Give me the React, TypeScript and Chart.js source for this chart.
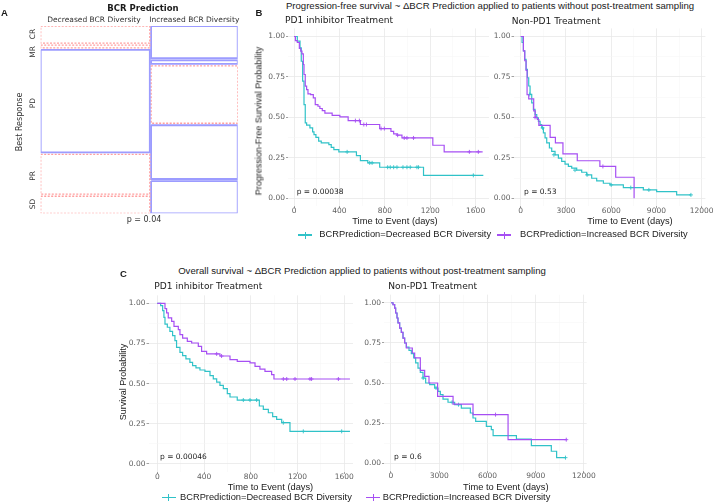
import React, { useEffect, useRef } from "react";
import { Chart, registerables } from "chart.js";

Chart.register(...registerables);

// ---------- Panel A : mosaic (counts per best response) ----------
const responses = ["CR", "MR", "PD", "PR", "SD"];
const groups = ["Decreased BCR Diversity", "Increased BCR Diversity"];
const decreasedCounts = [6, 1, 36, 14, 6];
const increasedCounts = [9, 1, 16, 15, 9];

// ---------- Panel B : progression-free survival [days, probability] ----------
const pfsPd1Decreased = [[0, 1], [29, 0.971], [53, 0.93], [64, 0.847], [76, 0.724], [88, 0.579], [99, 0.466], [111, 0.452], [140, 0.435], [164, 0.41], [176, 0.394], [193, 0.377], [217, 0.353], [240, 0.342], [307, 0.332], [328, 0.315], [351, 0.301], [395, 0.287], [550, 0.264], [585, 0.233], [650, 0.219], [755, 0.192], [1141, 0.142], [1668, 0.142]];
const pfsPd1Increased = [[0, 1], [12, 0.975], [29, 0.963], [47, 0.926], [59, 0.909], [70, 0.893], [82, 0.827], [88, 0.765], [99, 0.693], [111, 0.672], [123, 0.645], [146, 0.641], [170, 0.621], [187, 0.579], [211, 0.569], [228, 0.555], [249, 0.542], [272, 0.526], [336, 0.513], [404, 0.503], [477, 0.48], [585, 0.456], [755, 0.431], [854, 0.414], [878, 0.398], [907, 0.39], [951, 0.373], [1223, 0.328], [1323, 0.287], [1662, 0.287]];
const pfsPd1DecreasedCensor = [[468, 0.287], [667, 0.219], [688, 0.219], [825, 0.192], [848, 0.192], [878, 0.192], [907, 0.192], [960, 0.192], [995, 0.192], [1024, 0.192], [1083, 0.192], [1097, 0.192], [1580, 0.142]];
const pfsPd1IncreasedCensor = [[541, 0.48], [576, 0.48], [615, 0.456], [638, 0.456], [767, 0.431], [796, 0.431], [913, 0.39], [971, 0.373], [995, 0.373], [1053, 0.373], [1545, 0.287], [1624, 0.287]];

const pfsNonDecreased = [[0, 1], [88, 0.963], [177, 0.911], [265, 0.859], [354, 0.797], [442, 0.745], [530, 0.694], [619, 0.642], [729, 0.59], [840, 0.549], [950, 0.518], [1061, 0.497], [1171, 0.476], [1282, 0.455], [1392, 0.435], [1503, 0.404], [1613, 0.373], [1724, 0.342], [1901, 0.311], [2055, 0.29], [2276, 0.269], [2497, 0.248], [2718, 0.228], [2939, 0.211], [3160, 0.197], [3381, 0.186], [3713, 0.174], [4044, 0.161], [4376, 0.145], [4707, 0.124], [5039, 0.108], [5481, 0.093], [5923, 0.083], [6807, 0.066], [8133, 0.052], [9017, 0.041], [10343, 0.021], [11290, 0.021]];
const pfsNonIncreased = [[0, 1], [177, 0.911], [265, 0.85], [354, 0.79], [420, 0.64], [530, 0.615], [860, 0.54], [960, 0.5], [1100, 0.487], [1200, 0.451], [1950, 0.377], [2300, 0.342], [2800, 0.275], [3750, 0.232], [5250, 0.197], [6300, 0.13], [7520, 0]];
const pfsNonDecreasedCensor = [[600, 0.642], [1450, 0.435], [2200, 0.269], [3600, 0.174], [4400, 0.145], [6000, 0.083], [7300, 0.066], [8500, 0.052], [11290, 0.021]];
const pfsNonIncreasedCensor = [[950, 0.5], [5450, 0.197]];

// ---------- Panel C : overall survival [days, probability] ----------
const osPd1Decreased = [[0, 1], [29, 0.986], [46, 0.955], [57, 0.913], [66, 0.871], [86, 0.851], [108, 0.826], [131, 0.799], [151, 0.768], [165, 0.726], [194, 0.695], [217, 0.674], [245, 0.654], [279, 0.633], [302, 0.612], [331, 0.598], [365, 0.585], [408, 0.577], [451, 0.55], [479, 0.53], [508, 0.51], [536, 0.489], [565, 0.469], [599, 0.438], [622, 0.417], [684, 0.398], [873, 0.361], [907, 0.34], [950, 0.319], [987, 0.295], [1021, 0.278], [1064, 0.257], [1135, 0.203], [1648, 0.203]];
const osPd1Increased = [[0, 1], [66, 0.967], [80, 0.94], [94, 0.909], [123, 0.888], [143, 0.857], [180, 0.836], [194, 0.805], [217, 0.784], [257, 0.763], [294, 0.753], [351, 0.732], [379, 0.701], [422, 0.685], [536, 0.672], [622, 0.649], [684, 0.639], [793, 0.629], [836, 0.608], [878, 0.591], [921, 0.577], [978, 0.556], [998, 0.529], [1648, 0.529]];
const osPd1DecreasedCensor = [[736, 0.398], [793, 0.398], [850, 0.398], [1078, 0.257], [1249, 0.203], [1577, 0.203]];
const osPd1IncreasedCensor = [[508, 0.685], [550, 0.672], [1078, 0.529], [1107, 0.529], [1178, 0.529], [1306, 0.529], [1320, 0.529], [1549, 0.529]];

const osNonDecreased = [[0, 1], [124, 0.988], [228, 0.967], [290, 0.936], [373, 0.905], [435, 0.874], [539, 0.842], [643, 0.815], [746, 0.78], [850, 0.749], [954, 0.724], [1119, 0.703], [1265, 0.683], [1410, 0.656], [1534, 0.625], [1679, 0.593], [1824, 0.566], [1990, 0.531], [2156, 0.5], [2405, 0.49], [2716, 0.469], [2923, 0.448], [3068, 0.427], [3234, 0.4], [3545, 0.38], [3959, 0.365], [4374, 0.344], [4934, 0.313], [5100, 0.282], [5265, 0.261], [5929, 0.23], [6240, 0.209], [6350, 0.172], [7800, 0.15], [8730, 0.11], [9970, 0.075], [10300, 0.035], [10850, 0.035]];
const osNonIncreased = [[0, 1], [124, 0.988], [228, 0.967], [290, 0.936], [373, 0.905], [435, 0.874], [539, 0.842], [643, 0.815], [746, 0.78], [850, 0.749], [954, 0.718], [1327, 0.687], [1472, 0.656], [1824, 0.579], [2094, 0.541], [2363, 0.5], [2900, 0.417], [3860, 0.369], [5100, 0.303], [7280, 0.147], [10900, 0.147]];
const osNonDecreasedCensor = [[2000, 0.531], [2800, 0.469], [3800, 0.38], [4200, 0.365], [10850, 0.035]];
const osNonIncreasedCensor = [[6500, 0.303], [10900, 0.147]];

// ---------- ticks ----------
const pd1DayTicks = [0, 400, 800, 1200, 1600];
const nonPd1DayTicks = [0, 3000, 6000, 9000, 12000];
const probTicks = [0, 0.25, 0.5, 0.75, 1];

const legendLabels = ["BCRPrediction=Decreased BCR Diversity", "BCRPrediction=Increased BCR Diversity"];

const CYAN = "#30C2C8";
const PURPLE = "#A64FF3";
const BLUE = "#9C9CFF";
const RED = "#FF9F9F";
const GRID = "#E8E8E8";
const GRID_MINOR = "#F4F4F4";
const TICK = "#5E5E5E";
const SANS = "'Liberation Sans', Arial, sans-serif";
const DEJAVU = "'DejaVu Sans', sans-serif";

function withMinor(major: number[]) {
  const out: number[] = [];
  major.forEach((v, i) => {
    out.push(v);
    if (i < major.length - 1) out.push(v + (major[i + 1] - v) / 2);
  });
  return out;
}

const toXY = (a: number[][]) => a.map(([x, y]) => ({ x, y }));

type Box = { x: number; y: number; w: number; h: number };
type Area = { l: number; t: number; r: number; b: number };

function KMPanel(props: {
  box: Box; area: Area; xMin: number; xMax: number; xTicks: number[];
  dec: number[][]; inc: number[][]; decCens: number[][]; incCens: number[][];
}) {
  const ref = useRef<HTMLCanvasElement | null>(null);
  useEffect(() => {
    const { box, area } = props;
    const xAll = withMinor(props.xTicks);
    const yAll = withMinor(probTicks);
    const isMajX = (v: number) => props.xTicks.includes(v);
    const isMajY = (v: number) => probTicks.includes(v);
    const tickFont = { family: "'DejaVu Sans', sans-serif", size: 7.5 };
    const chart = new Chart(ref.current as HTMLCanvasElement, {
      type: "line",
      data: {
        datasets: [
          { data: toXY(props.inc), borderColor: PURPLE, borderWidth: 1.2, pointRadius: 0, stepped: "before", fill: false },
          { data: toXY(props.dec), borderColor: CYAN, borderWidth: 1.2, pointRadius: 0, stepped: "before", fill: false },
          { data: toXY(props.incCens), showLine: false, pointStyle: "cross", pointRadius: 2, borderColor: PURPLE, borderWidth: 0.9 },
          { data: toXY(props.decCens), showLine: false, pointStyle: "cross", pointRadius: 2, borderColor: CYAN, borderWidth: 0.9 },
        ] as any,
      },
      options: {
        animation: false,
        responsive: false,
        devicePixelRatio: 1,
        events: [],
        layout: { padding: { left: 0, top: area.t - box.y, right: box.x + box.w - area.r, bottom: 0 } },
        plugins: { legend: { display: false }, tooltip: { enabled: false } },
        scales: {
          x: {
            type: "linear", min: props.xMin, max: props.xMax,
            border: { display: false },
            afterBuildTicks: (s: any) => { s.ticks = xAll.map((v) => ({ value: v })); },
            afterFit: (s: any) => { s.height = box.y + box.h - area.b; },
            ticks: { autoSkip: false, maxRotation: 0, minRotation: 0, padding: -1.5, color: TICK, font: tickFont, callback: (v: any) => (isMajX(v) ? String(v) : "") },
            grid: {
              color: (c: any) => (isMajX(c.tick.value) ? GRID : GRID_MINOR),
              lineWidth: (c: any) => (isMajX(c.tick.value) ? 0.8 : 0.5),
              tickLength: 2,
              tickColor: (c: any) => (isMajX(c.tick.value) ? "#8A8A8A" : "rgba(0,0,0,0)"),
            },
          },
          y: {
            type: "linear", min: -0.05, max: 1.05,
            border: { display: false },
            afterBuildTicks: (s: any) => { s.ticks = yAll.map((v) => ({ value: v })); },
            afterFit: (s: any) => { s.width = area.l - box.x; },
            ticks: { autoSkip: false, padding: 1, color: TICK, font: tickFont, callback: (v: any) => (isMajY(v) ? Number(v).toFixed(2) : "") },
            grid: {
              color: (c: any) => (isMajY(c.tick.value) ? GRID : GRID_MINOR),
              lineWidth: (c: any) => (isMajY(c.tick.value) ? 0.8 : 0.5),
              tickLength: 2,
              tickColor: (c: any) => (isMajY(c.tick.value) ? "#8A8A8A" : "rgba(0,0,0,0)"),
            },
          },
        },
      } as any,
    });
    return () => chart.destroy();
  }, []);
  const { box } = props;
  return (
    <canvas ref={ref} width={box.w} height={box.h}
      style={{ position: "absolute", left: box.x, top: box.y, width: box.w, height: box.h }} />
  );
}

function MosaicPanel() {
  const ref = useRef<HTMLCanvasElement | null>(null);
  useEffect(() => {
    const cols = [decreasedCounts, increasedCounts];
    const colTotals = cols.map((c) => c.reduce((a, b) => a + b, 0));
    const N = colTotals[0] + colTotals[1];
    const rowTotals = responses.map((_, i) => cols[0][i] + cols[1][i]);
    const gapX = 0.75;
    const gapY = 0.0112;
    const datasets: any[] = [];
    let x0 = 0;
    cols.forEach((counts, ci) => {
      const x1 = x0 + colTotals[ci];
      let y0 = 0;
      counts.forEach((n, ri) => {
        const y1 = y0 + n / colTotals[ci];
        const expected = (rowTotals[ri] * colTotals[ci]) / N;
        const over = n > expected;
        datasets.push({
          label: `${groups[ci]} ${responses[ri]}`,
          data: [{ x: x0, y: y0 }, { x: x1, y: y0 }, { x: x1, y: y1 }, { x: x0, y: y1 }, { x: x0, y: y0 }],
          borderColor: over ? BLUE : RED,
          borderWidth: over ? 1.8 : 1.3,
          borderDash: over ? [] : [2, 1.5],
          pointRadius: 0,
          tension: 0,
          fill: false,
        });
        y0 = y1 + gapY;
      });
      x0 = x1 + gapX;
    });
    const chart = new Chart(ref.current as HTMLCanvasElement, {
      type: "line",
      data: { datasets },
      options: {
        animation: false,
        responsive: false,
        devicePixelRatio: 1,
        events: [],
        layout: { padding: { left: 40.7, top: 26, right: 2.3, bottom: 26.7 } },
        plugins: { legend: { display: false }, tooltip: { enabled: false } },
        scales: {
          x: { type: "linear", display: false, min: 0, max: N + gapX },
          y: { type: "linear", display: false, min: 0, max: 1 + gapY * (responses.length - 1), reverse: true },
        },
      } as any,
    });
    return () => chart.destroy();
  }, []);
  return <canvas ref={ref} width={240} height={240} style={{ position: "absolute", left: 0, top: 0, width: 240, height: 240 }} />;
}

function Txt(props: { x: number; y: number; s: number; f?: string; w?: number; c?: string; a?: "l" | "c"; rot?: number; children: React.ReactNode }) {
  const { x, y, s, f = SANS, w = 400, c = "#1A1A1A", a = "l", rot = 0 } = props;
  const tx = a === "c" ? "-50%" : "0";
  return (
    <div style={{
      position: "absolute", left: x, top: y, fontFamily: f, fontSize: s, fontWeight: w, color: c,
      whiteSpace: "nowrap", lineHeight: 1,
      transform: `translate(${tx}, -50%)${rot ? ` rotate(${rot}deg)` : ""}`,
      transformOrigin: "50% 50%",
    }}>{props.children}</div>
  );
}

function LegendKey(props: { x: number; y: number; color: string }) {
  const { x, y, color } = props;
  return (
    <>
      <div style={{ position: "absolute", left: x, top: y - 0.6, width: 14, height: 1.3, background: color }} />
      <div style={{ position: "absolute", left: x + 6.5, top: y - 3.5, width: 1.1, height: 7, background: color }} />
    </>
  );
}

export default function App() {
  return (
    <div style={{ position: "absolute", left: 0, top: 0, width: 720, height: 504, background: "#FFFFFF", overflow: "hidden" }}>
      {/* Panel A */}
      <MosaicPanel />
      <Txt x={1} y={12.5} s={9.5} w={700}>A</Txt>
      <Txt x={143} y={7.5} s={8.5} f={DEJAVU} w={700} a="c">BCR Prediction</Txt>
      <Txt x={94} y={19.5} s={7.5} f={DEJAVU} c="#333" a="c">{groups[0]}</Txt>
      <Txt x={194.3} y={19.5} s={7.5} f={DEJAVU} c="#333" a="c">{groups[1]}</Txt>
      <Txt x={32.5} y={34.2} s={7.5} f={DEJAVU} c="#333" a="c" rot={-90}>{responses[0]}</Txt>
      <Txt x={32.5} y={52} s={7.5} f={DEJAVU} c="#333" a="c" rot={-90}>{responses[1]}</Txt>
      <Txt x={32.5} y={103.3} s={7.5} f={DEJAVU} c="#333" a="c" rot={-90}>{responses[2]}</Txt>
      <Txt x={32.5} y={175.8} s={7.5} f={DEJAVU} c="#333" a="c" rot={-90}>{responses[3]}</Txt>
      <Txt x={32.5} y={204.2} s={7.5} f={DEJAVU} c="#333" a="c" rot={-90}>{responses[4]}</Txt>
      <Txt x={20} y={121.5} s={8} f={DEJAVU} c="#333" a="c" rot={-90}>Best Response</Txt>
      <Txt x={144} y={220.3} s={8} f={DEJAVU} c="#333" a="c">p = 0.04</Txt>

      {/* Panel B */}
      <Txt x={255.5} y={13} s={9.5} w={700}>B</Txt>
      <Txt x={490} y={5.5} s={9.6} a="c">Progression-free survival ~ ΔBCR Prediction applied to patients without post-treatment sampling</Txt>
      <KMPanel box={{ x: 260, y: 20, w: 235, h: 200 }} area={{ l: 288, t: 28.4, r: 489, b: 206.4 }}
        xMin={-53} xMax={1718} xTicks={pd1DayTicks}
        dec={pfsPd1Decreased} inc={pfsPd1Increased} decCens={pfsPd1DecreasedCensor} incCens={pfsPd1IncreasedCensor} />
      <KMPanel box={{ x: 490, y: 20, w: 225, h: 200 }} area={{ l: 513.5, t: 28.4, r: 705.4, b: 206.4 }}
        xMin={-480} xMax={12250} xTicks={nonPd1DayTicks}
        dec={pfsNonDecreased} inc={pfsNonIncreased} decCens={pfsNonDecreasedCensor} incCens={pfsNonIncreasedCensor} />
      <Txt x={285} y={21} s={9.1} f={DEJAVU}>PD1 inhibitor Treatment</Txt>
      <Txt x={511.7} y={22} s={9.1} f={DEJAVU}>Non-PD1 Treatment</Txt>
      <Txt x={258.5} y={120.7} s={9} a="c" rot={-90}>Progression-Free Survival Probability</Txt>
      <Txt x={296.7} y={192} s={7.5} f={DEJAVU}>p = 0.00038</Txt>
      <Txt x={524} y={192} s={7.5} f={DEJAVU}>p = 0.53</Txt>
      <Txt x={395} y={222} s={9.3} a="c">Time to Event (days)</Txt>
      <Txt x={630} y={222} s={9.3} a="c">Time to Event (days)</Txt>
      <LegendKey x={298} y={235} color={CYAN} />
      <Txt x={319.3} y={235} s={9.3}>{legendLabels[0]}</Txt>
      <LegendKey x={497} y={235} color={PURPLE} />
      <Txt x={520} y={235} s={9.3}>{legendLabels[1]}</Txt>

      {/* Panel C */}
      <Txt x={120} y={274} s={9.5} w={700}>C</Txt>
      <Txt x={362} y={271} s={9.6} a="c">Overall survival ~ ΔBCR Prediction applied to patients without post-treatment sampling</Txt>
      <KMPanel box={{ x: 125, y: 285, w: 235, h: 195 }} area={{ l: 148.5, t: 295.3, r: 353, b: 472 }}
        xMin={-75} xMax={1674} xTicks={pd1DayTicks}
        dec={osPd1Decreased} inc={osPd1Increased} decCens={osPd1DecreasedCensor} incCens={osPd1IncreasedCensor} />
      <KMPanel box={{ x: 360, y: 285, w: 245, h: 195 }} area={{ l: 384, t: 294.7, r: 586.7, b: 471.3 }}
        xMin={-435} xMax={12170} xTicks={nonPd1DayTicks}
        dec={osNonDecreased} inc={osNonIncreased} decCens={osNonDecreasedCensor} incCens={osNonIncreasedCensor} />
      <Txt x={154.3} y={287.3} s={9.1} f={DEJAVU}>PD1 inhibitor Treatment</Txt>
      <Txt x={388.3} y={286.7} s={9.1} f={DEJAVU}>Non-PD1 Treatment</Txt>
      <Txt x={122.5} y={381.5} s={9} a="c" rot={-90}>Survival Probability</Txt>
      <Txt x={160} y={457} s={7.5} f={DEJAVU}>p = 0.00046</Txt>
      <Txt x={394} y={457} s={7.5} f={DEJAVU}>p = 0.6</Txt>
      <Txt x={270.5} y={487.7} s={9.3} a="c">Time to Event (days)</Txt>
      <Txt x={505.8} y={487.7} s={9.3} a="c">Time to Event (days)</Txt>
      <LegendKey x={161.7} y={497.7} color={CYAN} />
      <Txt x={180} y={497.7} s={9.3}>{legendLabels[0]}</Txt>
      <LegendKey x={366} y={497.7} color={PURPLE} />
      <Txt x={382.7} y={497.7} s={9.3}>{legendLabels[1]}</Txt>
    </div>
  );
}
